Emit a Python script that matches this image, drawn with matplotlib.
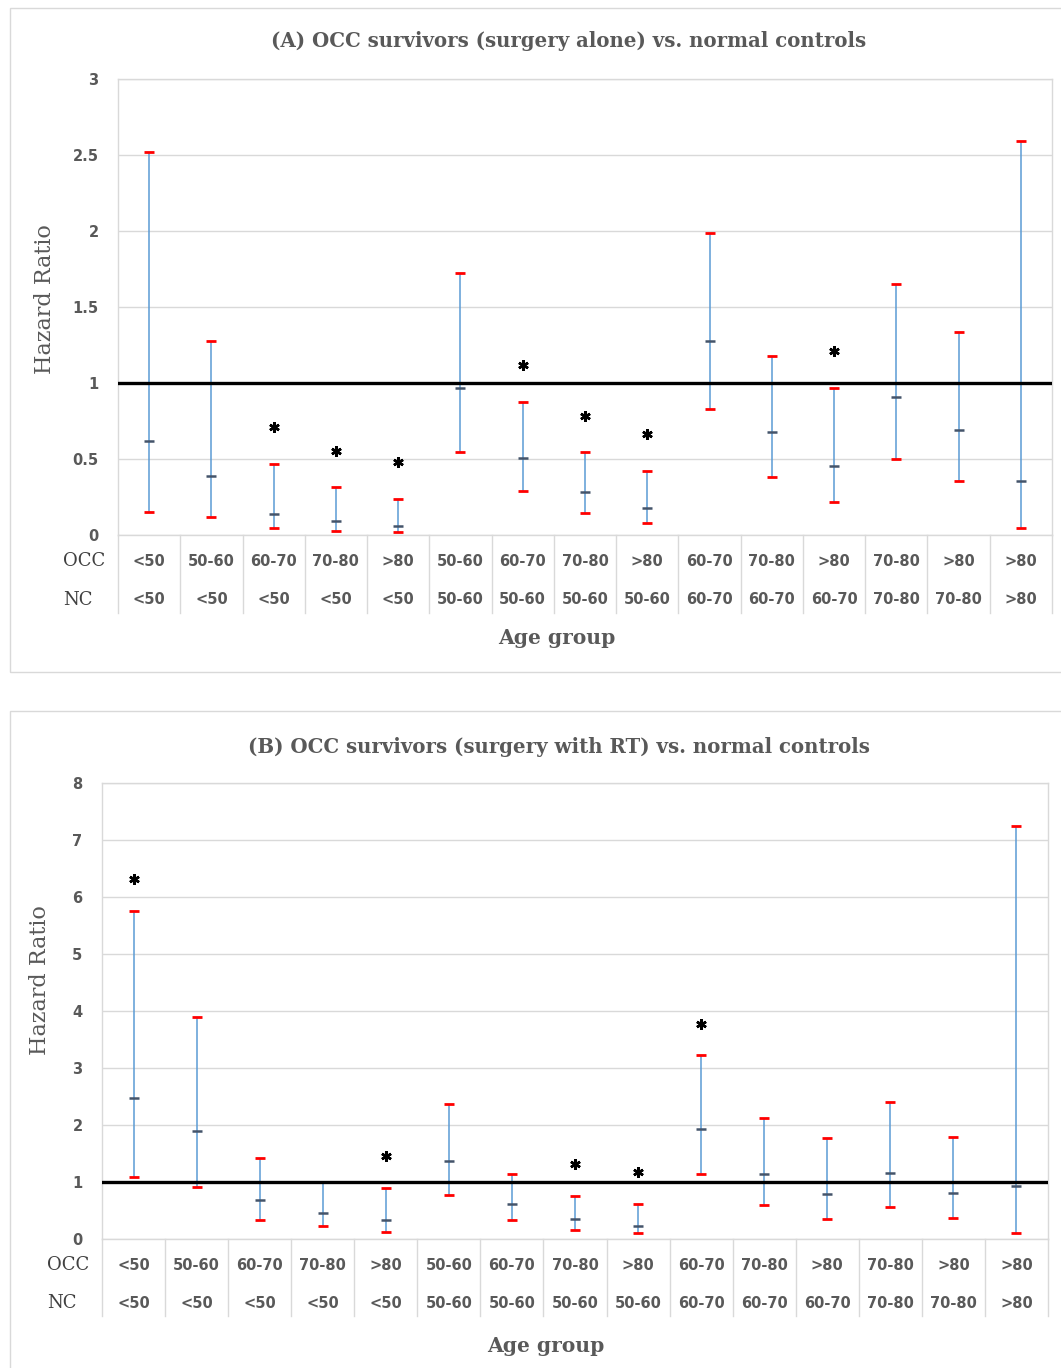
import matplotlib
matplotlib.use('Agg')
import matplotlib.pyplot as plt
import matplotlib.patches as patches
import matplotlib.transforms as mtrans
import numpy as np

# Age group labels (same for both panels)
OCC_GROUPS = ['<50', '50-60', '60-70', '70-80', '>80',
              '50-60', '60-70', '70-80', '>80',
              '60-70', '70-80', '>80',
              '70-80', '>80', '>80']
NC_GROUPS = ['<50', '<50', '<50', '<50', '<50',
             '50-60', '50-60', '50-60', '50-60',
             '60-70', '60-70', '60-70',
             '70-80', '70-80', '>80']

# (A) surgery alone
A_HR = [0.62, 0.39, 0.14, 0.094, 0.06, 0.97, 0.505, 0.283, 0.177, 1.274, 0.677, 0.454, 0.909, 0.691, 0.357]
A_LOW = [0.151, 0.12, 0.046, 0.026, 0.02, 0.543, 0.291, 0.143, 0.077, 0.826, 0.38, 0.217, 0.497, 0.357, 0.043]
A_HIGH = [2.52, 1.274, 0.469, 0.314, 0.24, 1.726, 0.877, 0.543, 0.423, 1.986, 1.18, 0.969, 1.649, 1.337, 2.594]
A_SIG = [0, 0, 1, 1, 1, 0, 1, 1, 1, 0, 0, 1, 0, 0, 0]

# (B) surgery with RT
B_HR = [2.47, 1.886, 0.689, 0.464, 0.337, 1.362, 0.621, 0.352, 0.225, 1.924, 1.145, 0.793, 1.16, 0.808, 0.928]
B_LOW = [1.08, 0.906, 0.337, 0.225, 0.12, 0.771, 0.337, 0.15, 0.097, 1.145, 0.591, 0.352, 0.569, 0.374, 0.112]
B_HIGH = [5.75, 3.89, 1.42, 1.0, 0.898, 2.365, 1.145, 0.763, 0.614, 3.22, 2.118, 1.774, 2.41, 1.796, 7.24]
B_SIG = [1, 0, 0, 0, 1, 0, 0, 1, 1, 1, 0, 0, 0, 0, 0]

W, H = 1061, 1368
GREY = '#595959'
GRID = '#D9D9D9'
SERIF = ['DejaVu Serif']


def fx(x):
    return x / W


def fy(y):
    return 1 - y / H


def drawPanel(fig, box, left, right, top, bottom, ymax, ystep, hr, low, high, sig,
              starOff, title, titlePos, agePos, rowY, sepY, labelX, ylabPos):
  # panel frame
  fig.patches.append(patches.Rectangle((fx(box[0]), fy(box[3])), fx(box[2] - box[0]),
                                       (box[3] - box[1]) / H, transform=fig.transFigure,
                                       fill=False, edgecolor=GRID, lw=1.0))

  ax = fig.add_axes([fx(left), fy(bottom), fx(right - left), (bottom - top) / H])
  n = len(hr)
  x = np.arange(n)
  ax.set_xlim(-0.5, n - 0.5)
  ax.set_ylim(0, ymax)
  ticks = np.arange(0, ymax + ystep / 2, ystep)
  ax.set_yticks(ticks)
  ax.set_yticklabels(['%g' % t for t in ticks], fontsize=10.5, fontweight='bold', color=GREY)
  ax.tick_params(axis='y', length=0, pad=14)
  ax.set_xticks([])
  for s in ax.spines.values():
    s.set_color(GRID)
    s.set_linewidth(1.0)
  ax.grid(axis='y', color=GRID, lw=1.0, zorder=0)
  ax.set_axisbelow(True)

  ax.vlines(x, low, high, color='#5B9BD5', lw=1.1, zorder=2)
  ax.plot(x, low, ls='', marker='_', ms=7, mew=2, color='#FF0000', zorder=3)
  ax.plot(x, high, ls='', marker='_', ms=7, mew=2, color='#FF0000', zorder=3)
  ax.plot(x, hr, ls='', marker='_', ms=7, mew=1.8, color='#44546A', zorder=3)
  ax.axhline(1, color='black', lw=2.4, zorder=4)

  for i in range(n):
    if sig[i]:
      ax.plot(x[i], high[i] + starOff, ls='', marker=(6, 2, 0), ms=7.5, mew=1.8,
              color='black', zorder=5)

  # table of age groups below the axis
  trans = mtrans.blended_transform_factory(ax.transData, fig.transFigure)
  for i in range(n):
    ax.text(x[i], fy(rowY[0]), OCC_GROUPS[i], transform=trans, ha='center', va='center',
            fontsize=10.5, fontweight='bold', color=GREY)
    ax.text(x[i], fy(rowY[1]), NC_GROUPS[i], transform=trans, ha='center', va='center',
            fontsize=10.5, fontweight='bold', color=GREY)
  for b in np.arange(-0.5, n, 1.0):
    ax.plot([b, b], [fy(bottom), fy(sepY)], transform=trans, color=GRID, lw=1.0,
            clip_on=False)

  fig.text(fx(labelX), fy(rowY[0]), 'OCC', ha='left', va='center', fontsize=13,
           family=SERIF, color='#404040')
  fig.text(fx(labelX), fy(rowY[1]), 'NC', ha='left', va='center', fontsize=13,
           family=SERIF, color='#404040')

  fig.text(fx(titlePos[0]), fy(titlePos[1]), title, ha='center', va='center',
           fontsize=14.2, fontweight='bold', family=SERIF, color=GREY)
  fig.text(fx(agePos[0]), fy(agePos[1]), 'Age group', ha='center', va='center',
           fontsize=14.6, fontweight='bold', family=SERIF, color=GREY)
  fig.text(fx(ylabPos[0]), fy(ylabPos[1]), 'Hazard Ratio', ha='center', va='center',
           rotation=90, fontsize=16, family=SERIF, color=GREY)
  return ax


if __name__ == '__main__':
  fig = plt.figure(figsize=(W / 100, H / 100), dpi=100)
  fig.patch.set_facecolor('white')

  drawPanel(fig, (10, 8, 1075, 672), 118, 1052, 79, 535, 3, 0.5,
            A_HR, A_LOW, A_HIGH, A_SIG, 0.24,
            '(A) OCC survivors (surgery alone) vs. normal controls',
            (569, 41), (557, 638), (561, 600), 613, 63, (45, 299))

  drawPanel(fig, (10, 711, 1075, 1380), 102, 1048, 783, 1239, 8, 1,
            B_HR, B_LOW, B_HIGH, B_SIG, 0.56,
            '(B) OCC survivors (surgery with RT) vs. normal controls',
            (559, 747), (546, 1346), (1265, 1303), 1316, 47, (40, 980))

  fig.savefig('out.png', dpi=100)
